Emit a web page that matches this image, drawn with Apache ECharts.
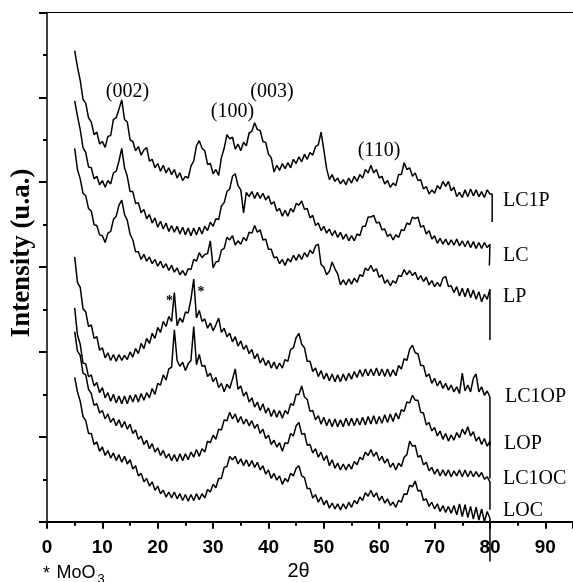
<!DOCTYPE html>
<html><head><meta charset="utf-8">
<script src="https://cdn.jsdelivr.net/npm/echarts@6/dist/echarts.min.js"></script>
<style>html,body{margin:0;padding:0;background:#fff}#c{width:573px;height:582px}</style>
</head><body><div id="c"></div>
<script>
// 2θ sampling grid of the traces (degrees)
const thetaStart = 5, thetaStep = 0.5;
const seriesNames = ['LC1P', 'LC', 'LP', 'LC1OP', 'LOP', 'LC1OC', 'LOC'];
const xTickLabels = [0, 10, 20, 30, 40, 50, 60, 70, 80, 90];
const peakLabels = ['(002)', '(100)', '(003)', '(110)'];

// intensities (stacked, arbitrary units) at 2θ = 5, 5.5, ... 80
const LC1P = [
555,536,520,498,493,476,471,456,459,445,
448,441,454,455,474,476,486,497,474,471,
450,448,437,442,432,438,441,425,427,417,
422,413,420,411,417,409,415,405,411,402,
407,405,419,425,443,449,440,437,421,422,
410,415,408,429,440,456,451,453,439,445,
437,447,443,458,460,470,462,461,448,447,
433,429,412,420,414,422,416,423,417,427,
422,430,424,433,427,435,432,442,444,459,
438,416,403,409,401,405,398,403,397,405,
399,407,401,409,405,415,411,420,411,415,
405,407,398,402,394,399,396,409,409,423,
415,417,407,411,402,403,392,395,386,391,
387,396,392,401,395,401,390,394,383,388,
382,391,383,392,384,391,383,389,382,391,
386];
const LC = [
496,478,462,441,435,418,417,404,407,397,
402,394,402,398,411,413,425,440,417,407,
389,389,375,376,364,368,357,362,352,358,
347,354,345,352,342,349,341,348,339,347,
338,346,337,346,338,347,339,348,343,353,
348,357,356,372,376,389,392,407,410,396,
391,364,388,383,389,381,388,381,387,379,
384,374,377,366,369,360,367,360,369,365,
375,373,378,368,369,358,361,349,352,343,
348,340,345,337,343,335,341,333,339,331,
337,331,339,337,348,348,359,359,361,352,
353,344,345,336,339,332,338,335,344,343,
352,350,359,357,359,347,349,339,343,333,
337,328,334,327,333,326,332,326,333,325,
331,324,331,323,330,322,329,322,329,323,
327];
const LP = [
440,415,404,387,384,369,366,350,349,338,
337,329,340,342,356,360,373,379,362,355,
339,332,318,318,309,315,307,312,304,309,
301,307,299,304,296,302,294,299,291,296,
290,298,297,309,307,317,311,315,316,331,
299,306,307,320,322,335,332,337,326,331,
327,335,331,341,340,349,341,344,332,333,
321,321,311,312,304,309,302,310,306,314,
308,315,309,317,312,320,316,325,327,303,
300,291,295,306,298,292,279,285,279,286,
280,287,282,291,289,299,296,302,295,298,
288,291,281,285,278,284,281,290,289,297,
291,296,290,294,285,290,283,288,279,284,
277,282,277,287,289,277,278,270,277,266,
275,265,275,264,273,262,271,259,268,262,
274];
const LC1OP = [
312,282,276,251,247,230,232,216,218,202,
205,193,199,190,197,189,197,190,196,191,
200,194,204,198,210,204,216,210,222,216,
229,223,236,230,242,236,270,231,240,235,
247,246,262,286,240,249,236,239,228,234,
225,232,240,223,228,218,222,212,218,207,
213,203,208,198,203,192,198,187,193,184,
190,181,188,180,187,181,191,189,203,205,
217,222,209,205,189,189,177,181,171,178,
168,175,166,174,165,173,165,174,166,175,
168,177,170,179,171,180,172,180,172,181,
172,180,171,180,171,179,172,184,180,192,
190,203,208,199,198,184,184,171,174,163,
169,160,166,157,163,155,161,153,159,151,
175,154,161,153,169,174,153,159,149,154,
147];
const LOP = [
252,220,209,187,186,171,173,160,164,152,
158,146,152,142,150,140,148,139,148,139,
149,141,150,141,151,143,152,146,157,150,
163,161,173,167,180,182,226,190,183,188,
178,186,190,230,185,197,183,184,171,175,
165,170,158,163,153,162,157,168,180,156,
160,148,153,141,146,135,141,131,139,128,
134,124,132,123,131,122,131,127,139,137,
150,150,160,147,144,130,131,120,125,115,
123,113,121,112,121,112,120,112,122,113,
122,113,122,114,123,114,124,115,125,115,
124,116,126,117,127,118,128,121,132,130,
141,140,149,143,143,129,128,114,117,107,
111,101,107,97,104,95,102,96,105,99,
109,103,112,101,106,95,100,91,98,89,
95];
const LC1OC = [
224,201,196,175,173,156,151,137,139,128,
131,121,127,117,122,113,120,111,118,109,
115,104,108,97,101,91,96,86,92,82,
87,78,84,75,80,72,79,71,80,72,
80,73,82,76,85,77,86,82,95,93,
102,97,109,108,120,119,129,121,127,117,
124,115,121,113,119,110,115,104,109,98,
102,91,96,88,93,83,93,92,104,101,
113,117,103,104,90,91,81,86,76,82,
72,78,66,73,63,69,61,68,61,68,
62,71,67,76,73,82,78,85,77,82,
72,77,69,74,64,69,61,69,65,76,
79,95,89,90,76,78,67,70,60,64,
56,62,54,61,54,61,53,60,54,61,
53,61,53,60,53,59,53,58,50,53,
47];
const LOC = [
170,153,142,124,119,104,104,91,94,83,
88,78,84,75,81,72,79,70,77,68,
73,62,66,54,57,47,51,42,47,37,
42,33,37,29,35,28,35,27,33,25,
32,24,32,25,33,26,33,28,38,35,
44,40,51,51,64,65,77,73,77,68,
74,66,73,65,72,64,70,61,66,56,
61,51,57,49,54,44,51,47,57,54,
63,66,54,52,39,39,28,32,23,29,
20,25,16,22,15,21,14,21,15,23,
17,25,21,29,25,34,30,37,29,34,
25,30,22,27,19,23,17,25,23,33,
32,43,41,48,36,37,25,27,18,23,
15,21,12,19,11,18,10,19,8,21,
6,20,5,18,3,17,2,15,0,12,
4];
// each trace ends with a vertical drop at the end of the scan
const endTheta = [80.4, 79.9, 80, 80, 80, 80, 80];
const endDrop = [353, 302, 214, 90, 51, 14, -47];

const seriesValues = [LC1P, LC, LP, LC1OP, LOP, LC1OC, LOC];

const SERIF = '"Liberation Serif", "Times New Roman", serif';
const SANS = '"Liberation Sans", Arial, sans-serif';

const series = seriesValues.map((vals, k) => {
  const data = vals.map((v, i) => [thetaStart + i * thetaStep, v]);
  const last = vals[vals.length - 1];
  data.push([endTheta[k], last]);
  data.push([endTheta[k], endDrop[k]]);
  return {
    name: seriesNames[k], type: 'line', data: data,
    symbol: 'none', showSymbol: false, silent: true,
    clip: k !== 6,
    lineStyle: { color: '#000', width: 1.5 },
    z: 3
  };
});

function txt(x, y, text, font, align, extra) {
  return Object.assign({
    type: 'text', x: x, y: y, silent: true, z: 10,
    style: { text: text, font: font, fill: '#000', textAlign: align || 'center', align: align || 'center',
             textVerticalAlign: 'middle', verticalAlign: 'middle' }
  }, extra || {});
}

const graphic = [
  txt(127.5, 91.7, peakLabels[0], '20px ' + SERIF),
  txt(232.5, 111.5, peakLabels[1], '20px ' + SERIF),
  txt(272, 91.7, peakLabels[2], '20px ' + SERIF),
  txt(379, 151, peakLabels[3], '20px ' + SERIF),
  txt(503, 201, seriesNames[0], '20px ' + SERIF, 'left'),
  txt(503, 256, seriesNames[1], '20px ' + SERIF, 'left'),
  txt(503, 297, seriesNames[2], '20px ' + SERIF, 'left'),
  txt(505, 397, seriesNames[3], '20px ' + SERIF, 'left'),
  txt(504, 444, seriesNames[4], '20px ' + SERIF, 'left'),
  txt(503, 479, seriesNames[5], '20px ' + SERIF, 'left'),
  txt(503, 511, seriesNames[6], '20px ' + SERIF, 'left'),
  txt(169.5, 301, '*', 'bold 14px ' + SERIF),
  txt(201, 292, '*', 'bold 14px ' + SERIF),
  txt(22.5, 253, 'Intensity (u.a.)', 'bold 27px ' + SERIF, 'center', { rotation: Math.PI / 2 }),
  txt(43, 574, '*', '18px ' + SANS, 'left'),
  txt(56.5, 573.5, 'MoO', '18px ' + SANS, 'left'),
  txt(97.5, 579, '3', '13px ' + SANS, 'left'),
  txt(298.5, 571, '2θ', '20px ' + SANS)
];

const chart = echarts.init(document.getElementById('c'), null, { renderer: 'canvas' });
chart.setOption({
  animation: false,
  backgroundColor: '#fff',
  grid: { left: 47, right: -7, top: 12.5, bottom: 60.3, containLabel: false },
  xAxis: [{
    type: 'value', min: 0, max: 95, interval: 10, position: 'bottom',
    axisLine: { show: true, onZero: false, lineStyle: { color: '#000', width: 2 } },
    axisTick: { show: true, length: 7, lineStyle: { color: '#000', width: 2 } },
    minorTick: { show: true, splitNumber: 2, length: 4, lineStyle: { color: '#000', width: 2 } },
    splitLine: { show: false }, minorSplitLine: { show: false },
    axisLabel: {
      show: true, margin: 17, color: '#000', fontFamily: SANS, fontWeight: 'bold', fontSize: 19,
      showMaxLabel: false,
      formatter: v => (xTickLabels.indexOf(v) >= 0 ? String(v) : '')
    }
  }, {
    type: 'value', min: 0, max: 95, position: 'top',
    axisLine: { show: true, onZero: false, lineStyle: { color: '#000', width: 1 } },
    axisTick: { show: false }, axisLabel: { show: false }, splitLine: { show: false }
  }],
  yAxis: {
    type: 'value', min: 0, max: 600, interval: 100,
    axisLine: { show: true, onZero: false, lineStyle: { color: '#000', width: 1.5 } },
    axisTick: { show: true, length: 8, lineStyle: { color: '#000', width: 2 } },
    minorTick: { show: true, splitNumber: 2, length: 4, lineStyle: { color: '#000', width: 2 } },
    axisLabel: { show: false }, splitLine: { show: false }, minorSplitLine: { show: false }
  },
  series: series,
  graphic: graphic
});
</script>
</body></html>
